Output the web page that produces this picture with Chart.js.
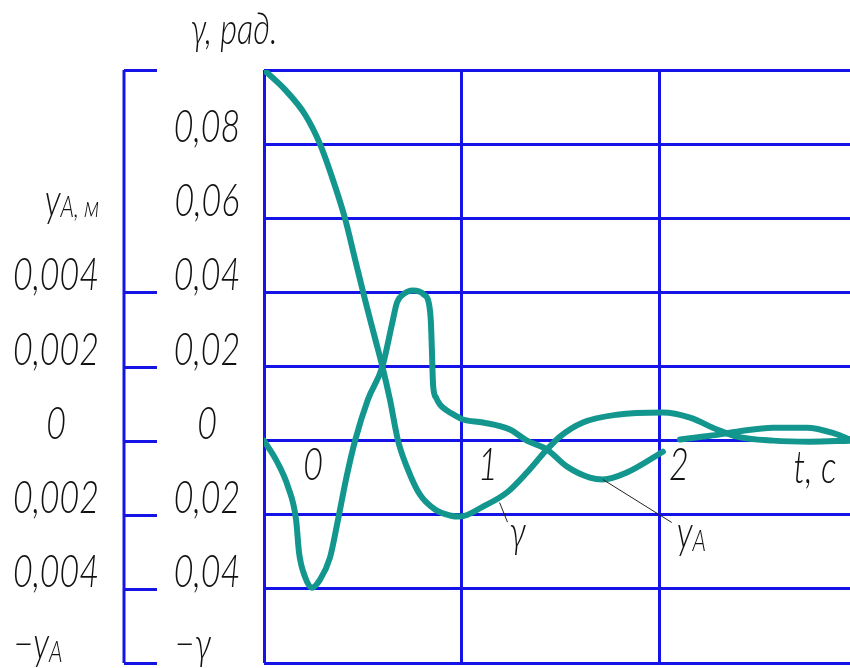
<!DOCTYPE html>
<html><head><meta charset="utf-8">
<script src="https://cdn.jsdelivr.net/npm/chart.js@4.4.1/dist/chart.umd.min.js"></script>
<style>html,body{margin:0;padding:0;background:#fff;}canvas{display:block;}</style>
</head><body>
<canvas id="c" width="850" height="668"></canvas>
<script>
// ---- data ----
const tGamma = [0, 0.106, 0.207, 0.283, 0.348, 0.409, 0.460, 0.510, 0.556, 0.598, 0.636, 0.677, 0.727, 0.788, 0.864, 0.939, 0.990, 1.106, 1.227, 1.328, 1.429, 1.495, 1.611, 1.783, 2.015, 2.152, 2.288, 2.389, 2.571, 2.758, 2.960];
const gammaValues = [0.100, 0.0947, 0.0880, 0.080, 0.0704, 0.060, 0.0489, 0.0381, 0.0286, 0.020, 0.0111, 0, -0.0078, -0.0146, -0.0186, -0.0202, -0.0205, -0.0178, -0.0140, -0.0086, -0.0024, 0.0011, 0.0049, 0.0070, 0.0076, 0.0062, 0.0030, 0.0011, 0, -0.0003, 0];
const tYA = [0, 0.066, 0.121, 0.162, 0.177, 0.207, 0.242, 0.283, 0.333, 0.374, 0.414, 0.460, 0.525, 0.598, 0.646, 0.672, 0.697, 0.753, 0.808, 0.833, 0.843, 0.848, 0.854, 0.869, 0.889, 0.919, 0.965, 1.005, 1.106, 1.242, 1.328, 1.429, 1.530, 1.646, 1.712, 1.833, 2.015, 2.060, 2.101, 2.253, 2.389, 2.571, 2.742, 2.884, 2.960];
const yAValues = [0, -0.00057, -0.00124, -0.00213, -0.00302, -0.00367, -0.00397, -0.00375, -0.00316, -0.00213, -0.00105, 0, 0.00111, 0.0020, 0.00313, 0.00373, 0.00392, 0.00405, 0.00394, 0.00370, 0.00320, 0.00246, 0.00150, 0.00116, 0.00097, 0.00083, 0.00068, 0.00057, 0.00049, 0.00030, 0, -0.00024, -0.00070, -0.00100, -0.00105, -0.00086, -0.00030, null, 0.00003, 0.00013, 0.00024, 0.00035, 0.00035, 0.00019, 0.00003];

const xTicks = [0, 1, 2];
const xTickLabels = ['0', '1', '2'];
const gammaTicks = [-0.06, -0.04, -0.02, 0, 0.02, 0.04, 0.06, 0.08, 0.10];
const gammaLabelVals = [0.08, 0.06, 0.04, 0.02, 0, -0.02, -0.04];
const gammaLabels = ['0,08', '0,06', '0,04', '0,02', '0', '0,02', '0,04'];
const yALabelVals = [0.004, 0.002, 0, -0.002, -0.004];
const yALabels = ['0,004', '0,002', '0', '0,002', '0,004'];
const bracketVals = [0.10, 0.04, 0.02, 0, -0.02, -0.04, -0.06];

const BLUE = '#1414e6';
const TEAL = '#12968e';
const FONT = "Lato,'Open Sans','DejaVu Sans',sans-serif";
const SX = 0.74;
const NUM = 46;
const fnt = s => `italic 300 ${s}px ${FONT}`;

function drawParts(ctx, parts, cx, baseY, align) {
  let total = 0;
  parts.forEach(p => { ctx.font = fnt(p[1]); total += ctx.measureText(p[0]).width * SX; });
  let x = align === 'left' ? cx : cx - total / 2;
  ctx.textAlign = 'left';
  ctx.textBaseline = 'alphabetic';
  parts.forEach(p => {
    ctx.font = fnt(p[1]);
    ctx.save();
    ctx.translate(x, baseY + (p[2] || 0));
    ctx.scale(SX, 1);
    ctx.fillText(p[0], 0, 0);
    ctx.restore();
    x += ctx.measureText(p[0]).width * SX;
  });
}

const decor = {
  id: 'decor',
  afterDraw(chart) {
    const ctx = chart.ctx;
    const xs = chart.scales.x, ys = chart.scales.y, ya = chart.scales.yA;
    ctx.save();
    // left bracket axis
    ctx.strokeStyle = BLUE; ctx.lineWidth = 3; ctx.lineCap = 'butt';
    ctx.beginPath();
    ctx.moveTo(124, ys.getPixelForValue(0.10));
    ctx.lineTo(124, ys.getPixelForValue(-0.06));
    bracketVals.forEach(v => {
      const p = Math.round(ys.getPixelForValue(v)) + 0.5;
      ctx.moveTo(124, p); ctx.lineTo(157, p);
    });
    ctx.stroke();

    ctx.fillStyle = '#111';
    // gamma column
    gammaLabelVals.forEach((v, i) => {
      drawParts(ctx, [[gammaLabels[i], NUM]], 207, ys.getPixelForValue(v) - 2);
    });
    drawParts(ctx, [['−γ', NUM]], 193, ys.getPixelForValue(-0.06) - 4);
    // y_A column
    yALabelVals.forEach((v, i) => {
      drawParts(ctx, [[yALabels[i], NUM]], 56, ya.getPixelForValue(v) - 2);
    });
    drawParts(ctx, [['y', NUM], ['A, м', 30, 1]], 72, ya.getPixelForValue(0.006) - 2);
    drawParts(ctx, [['−y', NUM], ['A', 30, 3]], 38, ya.getPixelForValue(-0.006) - 4);
    // axis titles
    drawParts(ctx, [['γ, рад.', 44]], 234, 44);
    // x labels on the zero line
    const xOff = [49, 26, 19];
    xTicks.forEach((t, i) => {
      drawParts(ctx, [[xTickLabels[i], NUM]], xs.getPixelForValue(t) + xOff[i], ys.getPixelForValue(0) + 39);
    });
    drawParts(ctx, [['t, c', NUM]], 815, ys.getPixelForValue(0) + 42);

    // curve labels with leaders
    ctx.strokeStyle = '#222'; ctx.lineWidth = 1;
    ctx.beginPath();
    ctx.moveTo(xs.getPixelForValue(1.19), ys.getPixelForValue(-0.0167));
    ctx.lineTo(xs.getPixelForValue(1.23), ys.getPixelForValue(-0.022));
    ctx.moveTo(xs.getPixelForValue(1.712), ya.getPixelForValue(-0.00105));
    ctx.lineTo(xs.getPixelForValue(2.06), ya.getPixelForValue(-0.00221));
    ctx.stroke();
    drawParts(ctx, [['γ', NUM]], xs.getPixelForValue(1.28), ys.getPixelForValue(-0.0288));
    drawParts(ctx, [['y', NUM], ['A', 30, 3]], xs.getPixelForValue(2.085), ya.getPixelForValue(-0.0029), 'left');
    ctx.restore();
  }
};

new Chart(document.getElementById('c'), {
  type: 'line',
  data: {
    datasets: [
      { label: 'γ', data: tGamma.map((t, i) => ({ x: t, y: gammaValues[i] })), yAxisID: 'y',
        borderColor: TEAL, borderWidth: 6, pointRadius: 0, cubicInterpolationMode: 'monotone',
        borderCapStyle: 'round', borderJoinStyle: 'round', fill: false },
      { label: 'yA', data: tYA.map((t, i) => ({ x: t, y: yAValues[i] })), yAxisID: 'yA',
        borderColor: TEAL, borderWidth: 6, pointRadius: 0, cubicInterpolationMode: 'monotone',
        borderCapStyle: 'round', borderJoinStyle: 'round', fill: false, spanGaps: false }
    ]
  },
  options: {
    responsive: false, animation: false, devicePixelRatio: 1,
    layout: { padding: { left: 264, top: 70, right: 0, bottom: 5 } },
    plugins: { legend: { display: false }, tooltip: { enabled: false } },
    scales: {
      x: { type: 'linear', min: 0, max: 2.96,
        afterBuildTicks: s => { s.ticks = xTicks.map(v => ({ value: v })); },
        ticks: { display: false, padding: 0 },
        grid: { color: BLUE, lineWidth: 3, drawTicks: false },
        border: { display: false } },
      y: { type: 'linear', position: 'left', min: -0.06, max: 0.10,
        afterBuildTicks: s => { s.ticks = gammaTicks.map(v => ({ value: v })); },
        ticks: { display: false, padding: 0 },
        grid: { color: BLUE, lineWidth: 3, drawTicks: false },
        border: { display: false } },
      yA: { type: 'linear', position: 'right', display: false, min: -0.006, max: 0.010 }
    }
  },
  plugins: [decor]
});
</script>
</body></html>
